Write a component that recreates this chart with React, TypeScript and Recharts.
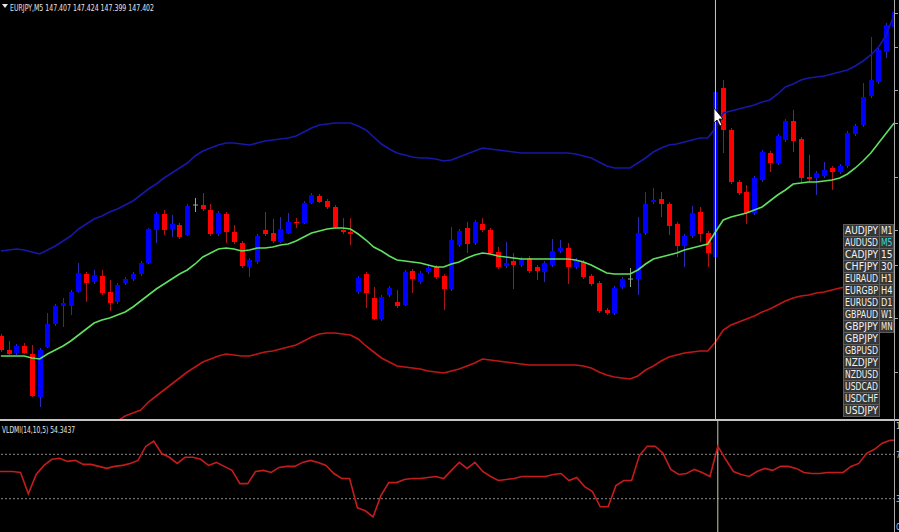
import { ComposedChart, LineChart, Bar, Line, XAxis, YAxis, ReferenceLine } from "recharts"

// EURJPY M5 candles, oldest first
const opens = [
  147.094, 147.080, 147.077, 147.084, 147.076, 147.033, 147.083, 147.106, 147.124, 147.124,
  147.138, 147.156, 147.148, 147.154, 147.138, 147.128, 147.147, 147.151, 147.156, 147.167,
  147.200, 147.216, 147.201, 147.205, 147.195, 147.225, 147.225, 147.220, 147.196, 147.216,
  147.198, 147.187, 147.163, 147.168, 147.200, 147.197, 147.188, 147.197, 147.208, 147.207,
  147.227, 147.234, 147.229, 147.223, 147.200, 147.198, 147.138, 147.156, 147.132, 147.111,
  147.135, 147.128, 147.125, 147.159, 147.148, 147.158, 147.163, 147.154, 147.141, 147.185,
  147.202, 147.187, 147.206, 147.200, 147.178, 147.164, 147.169, 147.165, 147.172, 147.163,
  147.158, 147.165, 147.179, 147.182, 147.163, 147.168, 147.154, 147.147, 147.120, 147.117,
  147.143, 147.151, 147.151, 147.197, 147.228, 147.231, 147.226, 147.206, 147.184, 147.194,
  147.218, 147.197, 147.173, 147.342, 147.300, 147.248, 147.238, 147.217, 147.250, 147.277,
  147.267, 147.290, 147.309, 147.291, 147.253, 147.252, 147.254, 147.262, 147.258, 147.264,
  147.296, 147.305, 147.334, 147.348, 147.378, 147.403,
]
const highs = [
  147.096, 147.089, 147.086, 147.087, 147.085, 147.082, 147.117, 147.126, 147.132, 147.140,
  147.167, 147.158, 147.160, 147.160, 147.150, 147.147, 147.153, 147.158, 147.169, 147.202,
  147.218, 147.220, 147.215, 147.207, 147.226, 147.232, 147.237, 147.226, 147.219, 147.218,
  147.205, 147.189, 147.172, 147.196, 147.218, 147.211, 147.213, 147.217, 147.212, 147.229,
  147.237, 147.236, 147.231, 147.225, 147.212, 147.212, 147.154, 147.158, 147.143, 147.135,
  147.144, 147.140, 147.160, 147.161, 147.159, 147.164, 147.165, 147.156, 147.203, 147.201,
  147.208, 147.210, 147.212, 147.202, 147.183, 147.188, 147.177, 147.173, 147.174, 147.165,
  147.169, 147.191, 147.190, 147.187, 147.172, 147.170, 147.156, 147.149, 147.122, 147.144,
  147.153, 147.162, 147.213, 147.238, 147.242, 147.238, 147.228, 147.208, 147.196, 147.224,
  147.223, 147.199, 147.340, 147.350, 147.302, 147.250, 147.245, 147.254, 147.280, 147.279,
  147.296, 147.311, 147.320, 147.293, 147.275, 147.259, 147.268, 147.264, 147.266, 147.299,
  147.306, 147.347, 147.393, 147.382, 147.407, 147.422,
]
const lows = [
  147.078, 147.075, 147.075, 147.076, 147.033, 147.023, 147.082, 147.104, 147.103, 147.115,
  147.137, 147.128, 147.146, 147.135, 147.119, 147.126, 147.145, 147.149, 147.154, 147.166,
  147.187, 147.195, 147.193, 147.191, 147.194, 147.218, 147.219, 147.194, 147.194, 147.187,
  147.186, 147.162, 147.153, 147.166, 147.194, 147.187, 147.187, 147.196, 147.202, 147.206,
  147.226, 147.227, 147.221, 147.201, 147.196, 147.185, 147.136, 147.122, 147.110, 147.109,
  147.133, 147.122, 147.124, 147.137, 147.146, 147.156, 147.151, 147.120, 147.139, 147.183,
  147.177, 147.185, 147.198, 147.175, 147.161, 147.162, 147.141, 147.163, 147.157, 147.150,
  147.148, 147.163, 147.177, 147.146, 147.161, 147.151, 147.144, 147.117, 147.115, 147.115,
  147.141, 147.143, 147.135, 147.195, 147.226, 147.213, 147.195, 147.173, 147.163, 147.192,
  147.188, 147.163, 147.171, 147.277, 147.246, 147.235, 147.206, 147.215, 147.248, 147.258,
  147.265, 147.288, 147.278, 147.247, 147.248, 147.235, 147.252, 147.240, 147.256, 147.262,
  147.294, 147.303, 147.332, 147.346, 147.372, 147.401,
]
const closes = [
  147.080, 147.076, 147.084, 147.077, 147.034, 147.080, 147.106, 147.124, 147.127, 147.138,
  147.157, 147.147, 147.155, 147.137, 147.127, 147.145, 147.151, 147.156, 147.167, 147.201,
  147.216, 147.200, 147.206, 147.193, 147.224, 147.225, 147.221, 147.196, 147.217, 147.198,
  147.188, 147.164, 147.170, 147.194, 147.196, 147.189, 147.201, 147.208, 147.207, 147.227,
  147.235, 147.228, 147.223, 147.203, 147.198, 147.196, 147.152, 147.137, 147.111, 147.133,
  147.142, 147.124, 147.158, 147.151, 147.157, 147.162, 147.153, 147.141, 147.190, 147.199,
  147.186, 147.208, 147.200, 147.177, 147.163, 147.167, 147.165, 147.171, 147.159, 147.159,
  147.167, 147.179, 147.182, 147.163, 147.170, 147.153, 147.146, 147.119, 147.117, 147.142,
  147.151, 147.151, 147.197, 147.226, 147.230, 147.226, 147.204, 147.184, 147.194, 147.217,
  147.196, 147.177, 147.338, 147.300, 147.248, 147.237, 147.217, 147.252, 147.278, 147.267,
  147.294, 147.309, 147.289, 147.252, 147.251, 147.257, 147.260, 147.258, 147.264, 147.297,
  147.304, 147.333, 147.350, 147.380, 147.405, 147.418,
]

// envelope bands
const upperBand = [
  147.179, 147.180, 147.181, 147.180, 147.178, 147.176, 147.180, 147.184, 147.189, 147.194,
  147.201, 147.206, 147.211, 147.214, 147.218, 147.221, 147.225, 147.229, 147.235, 147.241,
  147.246, 147.252, 147.257, 147.262, 147.267, 147.274, 147.279, 147.282, 147.285, 147.287,
  147.287, 147.286, 147.285, 147.287, 147.289, 147.290, 147.291, 147.292, 147.294, 147.298,
  147.302, 147.305, 147.306, 147.307, 147.307, 147.307, 147.304, 147.300, 147.293, 147.286,
  147.281, 147.277, 147.275, 147.273, 147.272, 147.272, 147.271, 147.269, 147.270, 147.273,
  147.276, 147.279, 147.282, 147.281, 147.280, 147.279, 147.278, 147.277, 147.277, 147.277,
  147.277, 147.277, 147.277, 147.277, 147.276, 147.274, 147.272, 147.268, 147.264, 147.262,
  147.262, 147.262, 147.267, 147.272, 147.278, 147.282, 147.285, 147.286, 147.288, 147.290,
  147.292, 147.292, 147.302, 147.317, 147.319, 147.321, 147.323, 147.325, 147.328, 147.330,
  147.336, 147.343, 147.346, 147.350, 147.352, 147.353, 147.354, 147.356, 147.358, 147.360,
  147.364, 147.369, 147.375, 147.383, 147.395, 147.415,
]
const middleBand = [
  147.074, 147.074, 147.074, 147.074, 147.072, 147.071, 147.076, 147.080, 147.084, 147.089,
  147.095, 147.101, 147.107, 147.110, 147.112, 147.115, 147.118, 147.123, 147.129, 147.135,
  147.141, 147.146, 147.151, 147.156, 147.160, 147.166, 147.173, 147.177, 147.181, 147.182,
  147.181, 147.179, 147.180, 147.182, 147.182, 147.183, 147.185, 147.186, 147.189, 147.193,
  147.197, 147.199, 147.201, 147.202, 147.202, 147.201, 147.196, 147.190, 147.183, 147.179,
  147.174, 147.170, 147.169, 147.168, 147.167, 147.165, 147.163, 147.163, 147.166, 147.168,
  147.172, 147.175, 147.177, 147.176, 147.174, 147.173, 147.172, 147.171, 147.171, 147.171,
  147.171, 147.171, 147.171, 147.171, 147.170, 147.168, 147.165, 147.161, 147.157, 147.156,
  147.156, 147.156, 147.160, 147.166, 147.171, 147.173, 147.175, 147.177, 147.180, 147.182,
  147.184, 147.186, 147.198, 147.210, 147.213, 147.215, 147.217, 147.220, 147.223, 147.229,
  147.235, 147.240, 147.246, 147.247, 147.248, 147.248, 147.249, 147.250, 147.252, 147.256,
  147.262, 147.269, 147.277, 147.287, 147.297, 147.307,
]
const lowerBand = [
  146.969, 146.968, 146.967, 146.968, 146.966, 146.966, 146.970, 146.974, 146.979, 146.982,
  146.987, 146.994, 147.003, 147.004, 147.006, 147.009, 147.014, 147.017, 147.020, 147.028,
  147.034, 147.040, 147.046, 147.052, 147.058, 147.063, 147.068, 147.071, 147.074, 147.076,
  147.075, 147.074, 147.074, 147.076, 147.078, 147.079, 147.081, 147.083, 147.085, 147.089,
  147.093, 147.096, 147.097, 147.097, 147.096, 147.095, 147.091, 147.084, 147.078, 147.072,
  147.068, 147.064, 147.063, 147.062, 147.061, 147.059, 147.058, 147.057, 147.059, 147.061,
  147.064, 147.067, 147.071, 147.070, 147.069, 147.068, 147.067, 147.066, 147.065, 147.065,
  147.065, 147.065, 147.065, 147.065, 147.065, 147.064, 147.062, 147.058, 147.055, 147.053,
  147.052, 147.051, 147.054, 147.060, 147.064, 147.069, 147.073, 147.075, 147.077, 147.078,
  147.079, 147.079, 147.088, 147.100, 147.105, 147.108, 147.111, 147.114, 147.118, 147.121,
  147.125, 147.129, 147.132, 147.134, 147.135, 147.137, 147.138, 147.140, 147.142, 147.143,
  147.147, 147.158, 147.168, 147.180, 147.190, 147.199,
]

// VLDMI(14,10,5) oscillator
const vldmi = [
  54.5, 54.5, 54.5, 53.6, 34.5, 51.8, 60.0, 65.5, 66.4, 63.6,
  64.5, 60.9, 60.9, 59.1, 57.3, 59.1, 60.0, 61.8, 64.5, 77.3,
  81.8, 70.9, 67.3, 61.8, 67.3, 67.3, 65.5, 60.0, 62.7, 59.1,
  55.5, 43.6, 43.6, 54.5, 55.5, 53.6, 58.2, 59.1, 59.1, 62.7,
  64.5, 62.7, 60.0, 52.7, 48.2, 48.2, 21.8, 19.1, 13.6, 32.7,
  44.5, 44.5, 47.3, 48.2, 48.2, 49.1, 50.0, 48.2, 55.5, 62.7,
  57.3, 62.7, 54.5, 50.0, 46.4, 47.3, 48.2, 50.0, 50.0, 50.0,
  50.0, 51.8, 52.7, 46.4, 49.1, 40.9, 36.4, 22.7, 22.7, 41.8,
  46.4, 46.4, 69.1, 77.3, 77.3, 70.9, 56.4, 51.8, 52.7, 56.4,
  53.6, 50.0, 77.3, 65.5, 54.5, 51.8, 50.0, 54.5, 57.3, 55.5,
  59.1, 59.1, 57.3, 53.6, 52.7, 52.7, 53.6, 53.6, 53.6, 59.1,
  61.8, 70.9, 74.5, 80.0, 82.7, 82.7,
]
const levels = [30, 70]
const subTicks = ["100", "70", "30", "0"]

const symbols = [
  "AUDJPY", "AUDUSD", "CADJPY", "CHFJPY", "EURAUD", "EURGBP", "EURUSD", "GBPAUD",
  "GBPJPY", "GBPJPY", "GBPUSD", "NZDJPY", "NZDUSD", "USDCAD", "USDCHF", "USDJPY",
]
const periods = ["M1", "M5", "15", "30", "H1", "H4", "D1", "W1", "MN"]
const activePeriod = "M5"

const header = "EURJPY,M5  147.407 147.424 147.399 147.402"
const indicatorLabel = "VLDMI(14,10,5) 54.3437"
const cursorIndex = 92

const candles = opens.map((open, i) => ({
  i,
  open,
  high: highs[i],
  low: lows[i],
  close: closes[i],
  range: [lows[i], highs[i]],
  upper: upperBand[i],
  middle: middleBand[i],
  lower: lowerBand[i],
}))
const osc = vldmi.map((v, i) => ({ i, v }))

function Candle(props: any) {
  const { x, y, width, height, payload } = props
  const { open, close, high, low } = payload
  const cx = Math.round(x + width / 2)
  const toY = (p: number) => y + ((high - p) / (high - low)) * height
  const top = toY(Math.max(open, close))
  const bottom = toY(Math.min(open, close))
  const doji = open === close
  const up = close > open
  const wick = doji ? "#8fa88f" : up ? "#2a2ab4" : "#a81616"
  return (
    <g>
      <line x1={cx + 0.5} x2={cx + 0.5} y1={y} y2={y + height} stroke={wick} strokeWidth={1} />
      {doji ? (
        <line x1={cx - 2} x2={cx + 3} y1={top} y2={top} stroke={wick} strokeWidth={1} />
      ) : (
        <rect x={cx - 2} y={top} width={5} height={Math.max(1, bottom - top)} fill={up ? "#0000ff" : "#ff0000"} />
      )}
    </g>
  )
}

const textStyle = { fontFamily: "'DejaVu Sans Condensed', 'Liberation Sans', sans-serif" }

export default function App() {
  return (
    <div style={{ position: "relative", width: 899, height: 532, background: "#000", overflow: "hidden" }}>
      <style>{"body{margin:0;background:#000}"}</style>

      <div style={{ position: "absolute", left: 0, top: 0, width: 894, height: 419, overflow: "hidden" }}>
        <div style={{ position: "absolute", left: -3, top: 0 }}>
          <ComposedChart width={901} height={419} data={candles} margin={{ top: 0, right: 0, bottom: 0, left: 0 }}>
            <XAxis dataKey="i" hide />
            <YAxis hide domain={[147.011, 147.43]} allowDataOverflow />
            <Bar dataKey="range" shape={(p: any) => <Candle {...p} />} isAnimationActive={false} />
            <Line dataKey="upper" stroke="#1717a8" strokeWidth={1.6} dot={false} activeDot={false} isAnimationActive={false} />
            <Line dataKey="lower" stroke="#bf1717" strokeWidth={1.6} dot={false} activeDot={false} isAnimationActive={false} />
            <Line dataKey="middle" stroke="#5fe05f" strokeWidth={1.6} dot={false} activeDot={false} isAnimationActive={false} />
            <ReferenceLine x={cursorIndex} stroke="#c9c8b2" strokeWidth={1} />
          </ComposedChart>
        </div>
      </div>

      <div style={{ position: "absolute", left: 0, top: 421, width: 894, height: 111, overflow: "hidden" }}>
        <div style={{ position: "absolute", left: -3, top: 0 }}>
          <LineChart width={901} height={111} data={osc} margin={{ top: 0, right: 0, bottom: 0, left: 0 }}>
            <XAxis dataKey="i" hide />
            <YAxis hide domain={[0, 100]} />
            {levels.map((lv) => (
              <ReferenceLine key={lv} y={lv} stroke="#8a8a8a" strokeDasharray="2 2" />
            ))}
            <ReferenceLine x={cursorIndex} stroke="#c9c8b2" strokeWidth={1} />
            <Line dataKey="v" stroke="#c41c1c" strokeWidth={1.6} dot={false} activeDot={false} isAnimationActive={false} />
          </LineChart>
        </div>
      </div>

      <svg width={899} height={532} style={{ position: "absolute", left: 0, top: 0, pointerEvents: "none" }}>
        <rect x={0} y={419} width={899} height={2} fill="#c4c4c4" />
        <line x1={894.5} x2={894.5} y1={0} y2={532} stroke="#a9a9a9" />
        {[13, 47, 90, 123, 177, 230, 265, 318, 372].map((t) => (
          <line key={t} x1={895} x2={898} y1={t + 0.5} y2={t + 0.5} stroke="#a9a9a9" />
        ))}
        {subTicks.map((t, k) => (
          <text key={t} x={896} y={[429, 458, 502, 530][k]} fontSize={8} fill="#c8c8c8" style={textStyle}>
            {t}
          </text>
        ))}

        <polygon points="2,4 8,4 5,8" fill="#e8e8e8" />
        <text x={10} y={11} fontSize={9.5} fill="#e4e4e4" textLength={144} lengthAdjust="spacingAndGlyphs" style={textStyle}>
          {header}
        </text>
        <text x={2} y={433} fontSize={9.5} fill="#e4e4e4" textLength={73} lengthAdjust="spacingAndGlyphs" style={textStyle}>
          {indicatorLabel}
        </text>

        {symbols.map((s, k) => {
          const top = 224 + k * 12
          const tf = periods[k]
          return (
            <g key={k}>
              <rect x={843.5} y={top + 0.5} width={36} height={12} fill="#363636" stroke="#5c5c5c" />
              <text x={845} y={top + 10} fontSize={10} fill="#f2f2f2" textLength={33} lengthAdjust="spacingAndGlyphs" style={textStyle}>
                {s}
              </text>
              {tf && (
                <g>
                  <rect x={879.5} y={top + 0.5} width={14} height={12} fill="#363636" stroke="#5c5c5c" />
                  <text x={881} y={top + 10} fontSize={10} fill={tf === activePeriod ? "#3ad6d6" : "#f2f2f2"} textLength={11.5} lengthAdjust="spacingAndGlyphs" style={textStyle}>
                    {tf}
                  </text>
                </g>
              )}
            </g>
          )
        })}

        <polygon points="714,108 714,123 717,120 720,126 722,125 719,119 723,119" fill="#ffffff" stroke="#000" strokeWidth={0.8} />
      </svg>
    </div>
  )
}
